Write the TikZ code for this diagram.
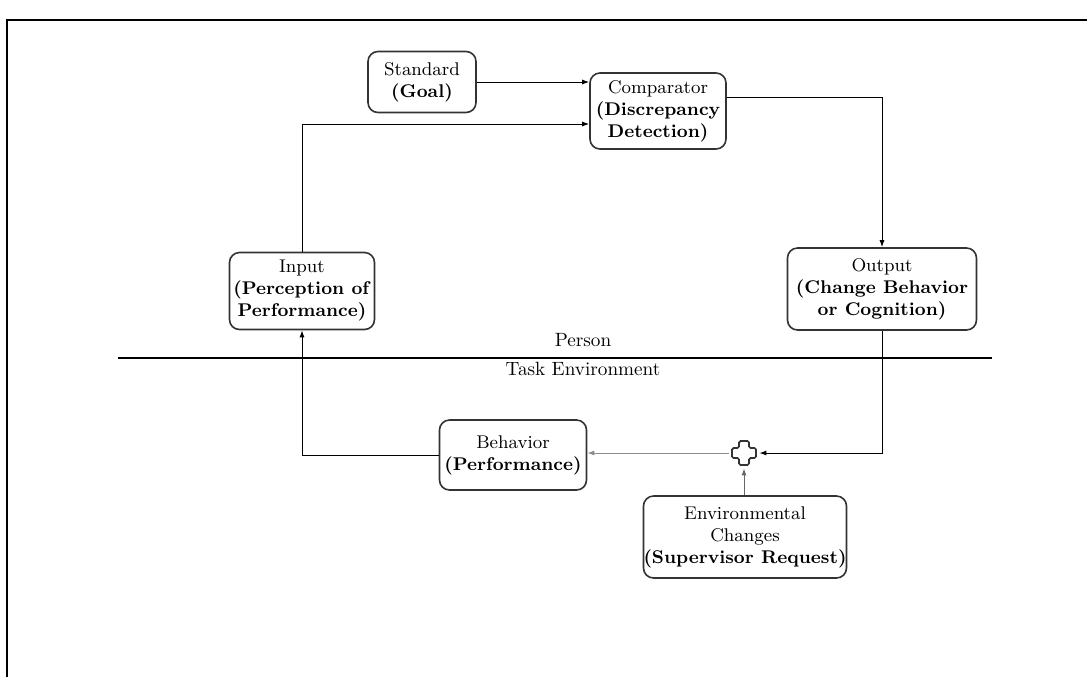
\documentclass[tikz,border=0pt]{standalone}
\usetikzlibrary{arrows.meta}

\begin{document}
\begin{tikzpicture}[x=0.5pt,y=-0.5pt,
        box/.style={draw=black!80, line width=0.8pt, rounded corners=5pt, align=center, inner sep=0pt,
        font=\fontsize{9.2}{11}\selectfont},
        lbl/.style={font=\fontsize{9.6}{11}\selectfont},
        link/.style={line width=0.5pt, -{Latex[length=3.5pt,width=2.5pt]}},
        greylink/.style={link, draw=black!45}]
        \useasboundingbox (0,0) rectangle (1087,677);
        % frame
        \draw[line width=1pt] (7,677) -- (7,20) -- (1087,20);
        % boxes
        \node[box, minimum width=54pt, minimum height=30.5pt] (goal) at (422,82) {Standard\\\textbf{(Goal)}};
        \node[box, minimum width=68pt, minimum height=38pt] (comp) at (658,111) {Comparator\\\textbf{(Discrepancy}\\\textbf{Detection)}};
        \node[box, minimum width=72.5pt, minimum height=38.5pt] (input) at (302,291) {Input\\\textbf{(Perception of}\\\textbf{Performance)}};
        \node[box, minimum width=94.5pt, minimum height=41pt] (output) at (882,289) {Output\\\textbf{(Change Behavior}\\\textbf{or Cognition)}};
        \node[box, minimum width=73.5pt, minimum height=35pt] (behav) at (513,455) {Behavior\\\textbf{(Performance)}};
        \node[box, minimum width=101.5pt, minimum height=41pt] (env) at (745,537) {Environmental\\Changes\\\textbf{(Supervisor Request)}};
        \node[minimum size=12pt, inner sep=0pt] (sum) at (744,453) {};
        \draw[black!80, line width=0.8pt, rounded corners=0.8pt]
          (sum.center) ++(-2.5pt,-6pt) -- ++(5pt,0) -- ++(0,3.5pt) -- ++(3.5pt,0) -- ++(0,5pt) -- ++(-3.5pt,0)
          -- ++(0,3.5pt) -- ++(-5pt,0) -- ++(0,-3.5pt) -- ++(-3.5pt,0) -- ++(0,-5pt) -- ++(3.5pt,0) -- cycle;
        % person / task environment
        \coordinate (divl) at (118,358);
        \coordinate (divr) at (992,358);
        \draw[line width=0.6pt] (divl) -- (divr);
        \node[lbl] (person) at (583,340) {Person};
        \node[lbl] (taskenv) at (583,369) {Task Environment};
        % connectors
        \draw[link] (goal.east) -- (goal.east -| comp.west);
        \draw[link] (input.north) |- ([yshift=-6.5pt]comp.west);
        \draw[link] ([yshift=7pt]comp.east) -| (output.north);
        \draw[link] (output.south) |- ([xshift=1.5pt]sum.east);
        \draw[greylink] ([xshift=-1.5pt]sum.west) -- (sum.west -| behav.east);
        \draw[link, draw=black!60] (env.north -| sum.south) -- ([yshift=-1.5pt]sum.south);
        \draw[link] (behav.west) -| (input.south);
\end{tikzpicture}
\end{document}
